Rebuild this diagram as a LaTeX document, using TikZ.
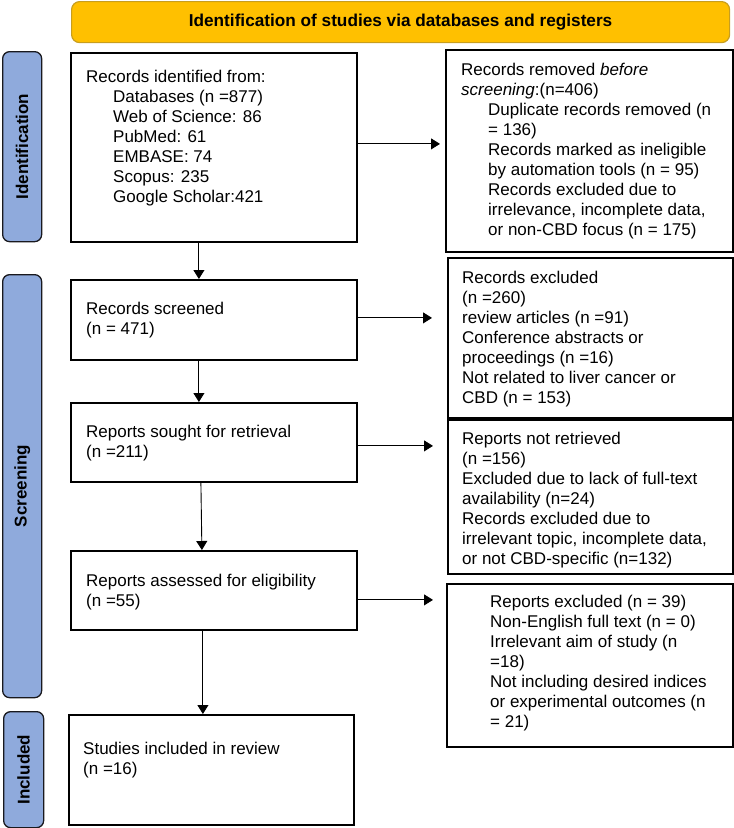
\documentclass[tikz,border=0pt]{standalone}
\usepackage{fontspec}
\setmainfont{Liberation Sans}
\usetikzlibrary{arrows.meta,calc}
\definecolor{hdrfill}{HTML}{FFC000}
\definecolor{hdrdraw}{RGB}{200,158,30}
\definecolor{sidefill}{HTML}{8FAADC}
\definecolor{sidedraw}{RGB}{25,25,30}
\begin{document}
\begin{tikzpicture}[x=1pt,y=-1pt,
  box/.style={draw=black, line width=1.8pt, inner sep=0pt, anchor=north west},
  txt/.style={anchor=north west, inner sep=0pt, align=left, font=\fontsize{17}{20}\selectfont},
  arr/.style={-{Triangle[length=9pt,width=11pt]}, line width=0.9pt},
  side/.style={draw=sidedraw, line width=1.3pt, fill=sidefill, rounded corners=7pt, anchor=north west, inner sep=0pt},
  sidetxt/.style={rotate=90, font=\fontsize{17}{20}\selectfont\bfseries, inner sep=0pt},
  hdr/.style={draw=hdrdraw, line width=1.2pt, fill=hdrfill, rounded corners=8pt, anchor=north west, inner sep=0pt, font=\fontsize{17.2}{20}\selectfont\bfseries}]
\useasboundingbox (0,0) rectangle (734,828);

% header
\node[hdr, minimum width=658pt, minimum height=41pt] (hdr) at (71,1) {Identification of studies via databases and registers};

% side labels
\node[side, minimum width=39pt, minimum height=190pt] (s1) at (2,51) {};
\node[sidetxt] (s1t) at (s1.center) {Identification};
\node[side, minimum width=39pt, minimum height=423pt] (s2) at (2,274) {};
\node[sidetxt] (s2t) at (s2.center) {Screening};
\node[side, minimum width=40pt, minimum height=116pt] (s3) at (3,711) {};
\node[sidetxt] (s3t) at (s3.center) {Included};

% left boxes
\node[box, minimum width=286pt, minimum height=189pt] (b1) at (70,52) {};
\node[box, minimum width=286pt, minimum height=80pt] (b2) at (70,279) {};
\node[box, minimum width=286pt, minimum height=79pt] (b3) at (70,402) {};
\node[box, minimum width=286pt, minimum height=79pt] (b4) at (70,550) {};
\node[box, minimum width=285pt, minimum height=110pt] (b5) at (68,714) {};

% right boxes
\node[box, minimum width=287pt, minimum height=202pt] (r1) at (445,49) {};
\node[box, minimum width=285pt, minimum height=160pt] (r2) at (447,257) {};
\node[box, minimum width=285pt, minimum height=154pt] (r3) at (447,419) {};
\node[box, minimum width=286pt, minimum height=163pt] (r4) at (446,583) {};

% texts
\node[txt] (b1t) at (86,70) {Records identified from:\\
\hspace*{27pt}Databases (n =877)\\
\hspace*{27pt}Web of Science: 86\\
\hspace*{27pt}PubMed: 61\\
\hspace*{27pt}EMBASE: 74\\
\hspace*{27pt}Scopus: 235\\
\hspace*{27pt}Google Scholar:421};
\node[txt] (b2t) at (86,302) {Records screened\\(n = 471)};
\node[txt] (b3t) at (86,425) {Reports sought for retrieval\\(n =211)};
\node[txt] (b4t) at (86,574) {Reports assessed for eligibility\\(n =55)};
\node[txt] (b5t) at (83,742) {Studies included in review\\(n =16)};

\node[txt] (r1t) at (461,63) {Records removed \textit{before}\\
\textit{screening}:(n=406)\\
\hspace*{27pt}Duplicate records removed (n\\
\hspace*{27pt}= 136)\\
\hspace*{27pt}Records marked as ineligible\\
\hspace*{27pt}by automation tools (n = 95)\\
\hspace*{27pt}Records excluded due to\\
\hspace*{27pt}irrelevance, incomplete data,\\
\hspace*{27pt}or non-CBD focus (n = 175)};
\node[txt] (r2t) at (462,271) {Records excluded\\
(n =260)\\
review articles (n =91)\\
Conference abstracts or\\
proceedings (n =16)\\
Not related to liver cancer or\\
CBD (n = 153)};
\node[txt] (r3t) at (462,432) {Reports not retrieved\\
(n =156)\\
Excluded due to lack of full-text\\
availability (n=24)\\
Records excluded due to\\
irrelevant topic, incomplete data,\\
or not CBD-specific (n=132)};
\node[txt] (r4t) at (490,595) {Reports excluded (n = 39)\\
Non-English full text (n = 0)\\
Irrelevant aim of study (n\\
=18)\\
Not including desired indices\\
or experimental outcomes (n\\
= 21)};

% vertical arrows
\draw[arr] ([xshift=-15pt]b1.south) -- ([xshift=-15pt]b1.south |- b2.north);
\draw[arr] ([xshift=-15pt]b2.south) -- ([xshift=-15pt]b2.south |- b3.north);
\draw[arr] ([xshift=-13pt]b3.south) -- ([xshift=-12pt]b3.south |- b4.north);
\draw[arr] ([xshift=-11pt]b4.south) -- ([xshift=-11pt]b4.south |- b5.north);

% horizontal arrows
\draw[arr, shorten >=5pt] ([yshift=3.5pt]b1.east) -- ([yshift=3.5pt]b1.east -| r1.west);
\draw[arr, shorten >=15pt] ([yshift=2pt]b2.east) -- ([yshift=2pt]b2.east -| r2.west);
\draw[arr, shorten >=14pt] ([yshift=-3.5pt]b3.east) -- ([yshift=-3.5pt]b3.east -| r3.west);
\draw[arr, shorten >=13pt] ([yshift=-9.5pt]b4.east) -- ([yshift=-9.5pt]b4.east -| r4.west);
\end{tikzpicture}
\end{document}
